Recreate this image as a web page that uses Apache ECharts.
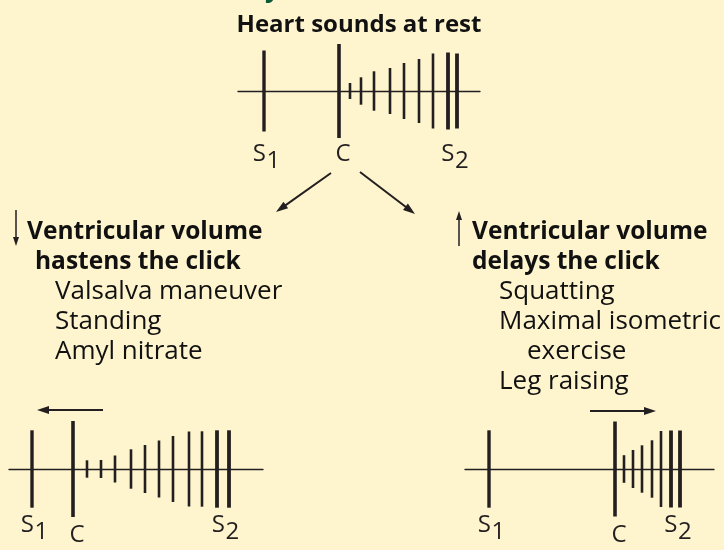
<!DOCTYPE html>
<html>
<head>
<meta charset="utf-8">
<script src="https://cdn.jsdelivr.net/npm/echarts@6/dist/echarts.min.js"></script>
<style>
html,body{margin:0;padding:0;background:#FEF5CE;}
#chart{width:724px;height:550px;}
</style>
</head>
<body>
<div id="chart"></div>
<script>
// sound components: time position along the trace and half amplitude
var topTimes = [26, 101, 112, 123, 136, 152, 166, 181, 195, 210, 219];
var topAmps = [40.5, 47, 8, 13.7, 19.7, 23, 28, 32, 37.5, 38.5, 37.5];
var topKinds = ['S1', 'C', 'M', 'M', 'M', 'M', 'M', 'M', 'M', 'S2', 'S2'];

var leftTimes = [23, 64, 78, 92, 106, 122, 136, 150, 164, 180, 193, 208, 220];
var leftAmps = [38.7, 48, 8.7, 9, 13.5, 19.7, 24, 28.5, 33, 37.5, 37.7, 38.7, 38.7];
var leftKinds = ['S1', 'C', 'M', 'M', 'M', 'M', 'M', 'M', 'M', 'M', 'M', 'S2', 'S2'];

var rightTimes = [24, 150, 159, 168, 177, 187, 196, 206, 215];
var rightAmps = [38.7, 47.5, 13.8, 19, 23.7, 28.7, 38, 38.5, 38.5];
var rightKinds = ['S1', 'C', 'M', 'M', 'M', 'M', 'M', 'S2', 'S2'];

var title = 'Heart sounds at rest';
var leftHeading = ['Ventricular volume', 'hastens the click'];
var leftItems = ['Valsalva maneuver', 'Standing', 'Amyl nitrate'];
var rightHeading = ['Ventricular volume', 'delays the click'];
var rightItems = ['Squatting', 'Maximal isometric', 'exercise', 'Leg raising'];

var ink = '#231F20';
var font = '"Open Sans", "Noto Sans", sans-serif';
var widths = {S1: 3.4, C: 3.6, M: 2.6, S2: 3.8};

var chart = echarts.init(document.getElementById('chart'));

function zip(ts, as) {
	var out = [];
	for (var i = 0; i < ts.length; i++) out.push([ts[i], as[i]]);
	return out;
}

function barRender(kinds) {
	return function (params, api) {
		var t = api.value(0), a = api.value(1);
		var p1 = api.coord([t, a]), p2 = api.coord([t, -a]);
		return {type: 'line', shape: {x1: p1[0], y1: p1[1], x2: p2[0], y2: p2[1]},
			style: {stroke: ink, lineWidth: widths[kinds[params.dataIndex]]}};
	};
}

// label anchors: S1, C and the middle of the S2 pair
function labelData(ts, kinds) {
	var s2 = [], out = [];
	for (var i = 0; i < ts.length; i++) {
		if (kinds[i] === 'S1') out.push({value: [ts[i], 0], name: 'S1'});
		if (kinds[i] === 'C') out.push({value: [ts[i], 0], name: 'C'});
		if (kinds[i] === 'S2') s2.push(ts[i]);
	}
	out.push({value: [(s2[0] + s2[s2.length - 1]) / 2, 0], name: 'S2'});
	return out;
}

function labelRender(data, sDy, cDy) {
	return function (params, api) {
		var p = api.coord([api.value(0), 0]);
		var name = data[params.dataIndex].name;
		var st = {fill: ink, font: '24px ' + font, textVerticalAlign: 'middle'};
		if (name === 'C') {
			return {type: 'text', style: echarts.util.extend({text: 'C', x: p[0] + 4, y: p[1] + cDy, textAlign: 'center'}, st)};
		}
		return {type: 'group', children: [
			{type: 'text', style: echarts.util.extend({text: 'S', x: p[0] + 2, y: p[1] + sDy, textAlign: 'right'}, st)},
			{type: 'text', style: echarts.util.extend({text: name.charAt(1), x: p[0] + 2.5, y: p[1] + sDy + 7, textAlign: 'left'}, st)}
		]};
	};
}

var panels = [
	{grid: {left: 238, top: 41, width: 242, height: 100}, ts: topTimes, as: topAmps, ks: topKinds, sDy: 63, cDy: 63},
	{grid: {left: 9, top: 419, width: 254, height: 100}, ts: leftTimes, as: leftAmps, ks: leftKinds, sDy: 56, cDy: 66},
	{grid: {left: 465, top: 419, width: 249, height: 100}, ts: rightTimes, as: rightAmps, ks: rightKinds, sDy: 56, cDy: 66}
];

var grids = [], xAxes = [], yAxes = [], series = [];
panels.forEach(function (p, i) {
	grids.push(p.grid);
	xAxes.push({type: 'value', gridIndex: i, min: 0, max: p.grid.width,
		axisLine: {show: true, onZero: true, lineStyle: {color: ink, width: 1.3}},
		axisTick: {show: false}, axisLabel: {show: false}, splitLine: {show: false}});
	yAxes.push({type: 'value', gridIndex: i, min: -50, max: 50, show: false, splitLine: {show: false}});
	series.push({type: 'custom', xAxisIndex: i, yAxisIndex: i, silent: true, clip: false,
		data: zip(p.ts, p.as), renderItem: barRender(p.ks)});
	var ld = labelData(p.ts, p.ks);
	series.push({type: 'custom', xAxisIndex: i, yAxisIndex: i, silent: true, clip: false,
		data: ld, renderItem: labelRender(ld, p.sDy, p.cDy)});
});

function arrow(x1, y1, x2, y2, w, hl, hw) {
	var dx = x2 - x1, dy = y2 - y1, len = Math.sqrt(dx * dx + dy * dy);
	var ux = dx / len, uy = dy / len;
	var bx = x2 - ux * hl, by = y2 - uy * hl;
	return {type: 'group', silent: true, children: [
		{type: 'line', shape: {x1: x1, y1: y1, x2: bx + ux * 1, y2: by + uy * 1}, style: {stroke: ink, lineWidth: w}},
		{type: 'polygon', shape: {points: [[x2, y2], [bx - uy * hw / 2, by + ux * hw / 2], [bx + uy * hw / 2, by - ux * hw / 2]]},
			style: {fill: ink}}
	]};
}

function txt(s, x, y, bold, size) {
	return {type: 'text', silent: true, style: {text: s, x: x, y: y, fill: '#111',
		font: (bold ? 'bold ' : '') + size + 'px ' + font, textVerticalAlign: 'middle'}};
}

var graphics = [
	{type: 'text', silent: true, style: {text: 'y', x: 265, y: 3, fill: '#0B5A3A', font: 'bold 26px ' + font, textVerticalAlign: 'bottom'}},
	{type: 'text', silent: true, style: {text: title, x: 359, y: 25, fill: '#111', font: 'bold 24px ' + font,
		textAlign: 'center', textVerticalAlign: 'middle'}},
	arrow(331, 173, 276, 212, 2, 12, 8),
	arrow(360, 172, 415, 214, 2, 12, 8),
	arrow(16, 210, 16, 246, 1.5, 9, 6),
	arrow(459, 246, 459, 211, 1.5, 9, 6),
	arrow(103, 410, 37, 410, 2, 12, 8),
	arrow(590, 411, 656, 411, 2, 12, 8),
	txt(leftHeading[0], 27, 232, true, 24.5),
	txt(leftHeading[1], 35, 262, true, 24.5),
	txt(leftItems[0], 55, 292, false, 26),
	txt(leftItems[1], 55, 322, false, 26),
	txt(leftItems[2], 55, 352, false, 26),
	txt(rightHeading[0], 472, 232, true, 24.5),
	txt(rightHeading[1], 472, 262, true, 24.5),
	txt(rightItems[0], 499, 292, false, 26),
	txt(rightItems[1], 499, 322, false, 26),
	txt(rightItems[2], 527, 352, false, 26),
	txt(rightItems[3], 499, 382, false, 26)
];

chart.setOption({
	backgroundColor: '#FEF5CE',
	animation: false,
	grid: grids,
	xAxis: xAxes,
	yAxis: yAxes,
	series: series,
	graphic: graphics
});
window.addEventListener('resize', function () { chart.resize(); });
</script>
</body>
</html>
